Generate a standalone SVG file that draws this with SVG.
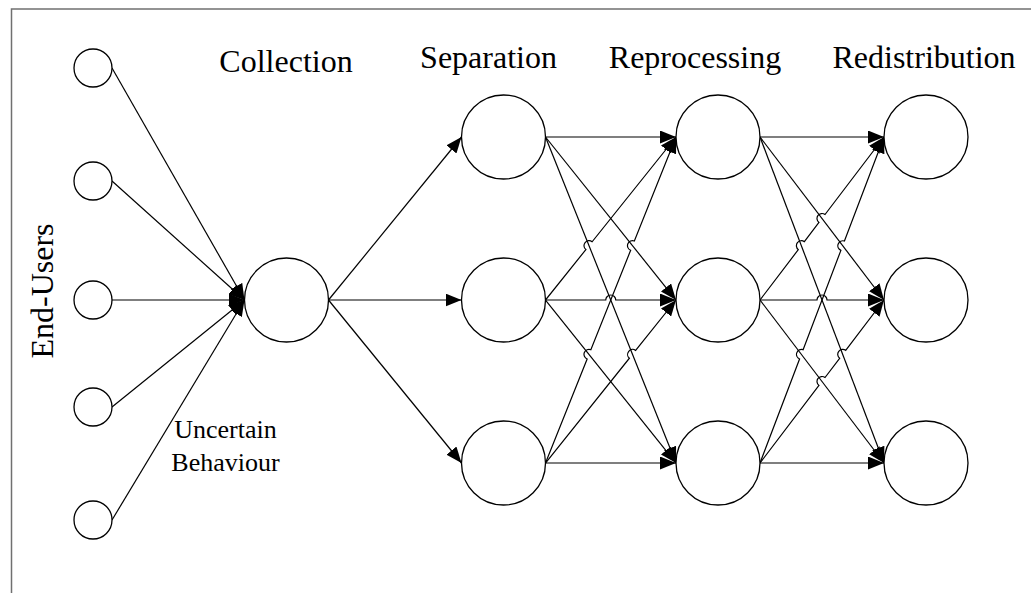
<svg xmlns="http://www.w3.org/2000/svg" width="1031" height="593" viewBox="0 0 1031 593">
<style>
.n{fill:#fff;stroke:#000;stroke-width:1.3}
.c{fill:none;stroke:#000;stroke-width:1.2}
.a{marker-end:url(#arr)}
.t{font-family:"Liberation Serif","Times New Roman",serif;fill:#000}
.big{font-size:32px}
.sm{font-size:26px}
</style>
<defs>
<marker id="arr" viewBox="0 0 16 13" refX="16" refY="6.5" markerWidth="16" markerHeight="13" markerUnits="userSpaceOnUse" orient="auto">
<path d="M0,0 L16,6.5 L0,13 z" fill="#000"/>
</marker>
</defs>
<rect width="1031" height="593" fill="#fff"/>
<path d="M11.5,593 V9 H1031" fill="none" stroke="#707070" stroke-width="1.5"/>

<g id="labels">
<text class="t big" x="286" y="72" text-anchor="middle">Collection</text>
<text class="t big" x="488.5" y="68" text-anchor="middle">Separation</text>
<text class="t big" x="695" y="68" text-anchor="middle">Reprocessing</text>
<text class="t big" x="924" y="68" text-anchor="middle">Redistribution</text>
<text class="t big" transform="translate(53,291) rotate(-90)" text-anchor="middle">End-Users</text>
<text class="t sm" x="225.5" y="438" text-anchor="middle">Uncertain</text>
<text class="t sm" x="225.5" y="471" text-anchor="middle">Behaviour</text>
</g>

<g id="connectors">
<path class="c a" d="M112,68 L244.5,300"/>
<path class="c a" d="M112,181 L244.5,300"/>
<path class="c a" d="M112,300 L244.5,300"/>
<path class="c a" d="M112,407 L244.5,300"/>
<path class="c a" d="M112,520 L244.5,300"/>

<path class="c a" d="M328.5,300 L461.5,137"/>
<path class="c a" d="M328.5,300 L461.5,300"/>
<path class="c a" d="M328.5,300 L461.5,463"/>

<path class="c a" d="M545.5,137 L676,137"/>
<path class="c a" d="M545.5,137 L676,300"/>
<path class="c a" d="M545.5,137 L676,463"/>
<path class="c a" d="M545.5,300 L676,463"/>
<path class="c a" d="M545.5,463 L676,463"/>
<path class="c a" d="M545.5,300 L585.88,249.57 A5,5 0 0 1 592.13,241.76 L676,137"/>
<path class="c a" d="M545.5,463 L587.14,358.98 A5,5 0 0 1 590.86,349.69 L630.64,250.31 A5,5 0 0 1 634.36,241.02 L676,137"/>
<path class="c a" d="M545.5,463 L629.38,358.23 A5,5 0 0 1 635.63,350.43 L676,300"/>
<path class="c a" d="M545.5,300 L605.75,300 A5,5 0 0 1 615.75,300 L676,300"/>

<path class="c a" d="M760,137 L884,137"/>
<path class="c a" d="M760,137 L884,300"/>
<path class="c a" d="M760,137 L884,463"/>
<path class="c a" d="M760,300 L884,463"/>
<path class="c a" d="M760,463 L884,463"/>
<path class="c a" d="M760,300 L798.31,249.65 A5,5 0 0 1 804.36,241.69 L818.97,222.48 A5,5 0 0 1 825.03,214.52 L884,137"/>
<path class="c a" d="M760,463 L799.56,359 A5,5 0 0 1 803.11,349.66 L840.89,250.34 A5,5 0 0 1 844.44,241 L884,137"/>
<path class="c a" d="M760,463 L818.97,385.48 A5,5 0 0 1 825.03,377.52 L839.64,358.31 A5,5 0 0 1 845.69,350.35 L884,300"/>
<path class="c a" d="M760,300 L817,300 A5,5 0 0 1 827,300 L884,300"/>
</g>

<g id="enduser1"><circle class="n" cx="93" cy="68" r="19"/></g>
<g id="enduser2"><circle class="n" cx="93" cy="181" r="19"/></g>
<g id="enduser3"><circle class="n" cx="93" cy="300" r="19"/></g>
<g id="enduser4"><circle class="n" cx="93" cy="407" r="19"/></g>
<g id="enduser5"><circle class="n" cx="93" cy="520" r="19"/></g>
<g id="collection"><circle class="n" cx="286.5" cy="300" r="42"/></g>
<g id="separation1"><circle class="n" cx="503.5" cy="137" r="42"/></g>
<g id="separation2"><circle class="n" cx="503.5" cy="300" r="42"/></g>
<g id="separation3"><circle class="n" cx="503.5" cy="463" r="42"/></g>
<g id="reprocessing1"><circle class="n" cx="718" cy="137" r="42"/></g>
<g id="reprocessing2"><circle class="n" cx="718" cy="300" r="42"/></g>
<g id="reprocessing3"><circle class="n" cx="718" cy="463" r="42"/></g>
<g id="redistribution1"><circle class="n" cx="926" cy="137" r="42"/></g>
<g id="redistribution2"><circle class="n" cx="926" cy="300" r="42"/></g>
<g id="redistribution3"><circle class="n" cx="926" cy="463" r="42"/></g>
</svg>
